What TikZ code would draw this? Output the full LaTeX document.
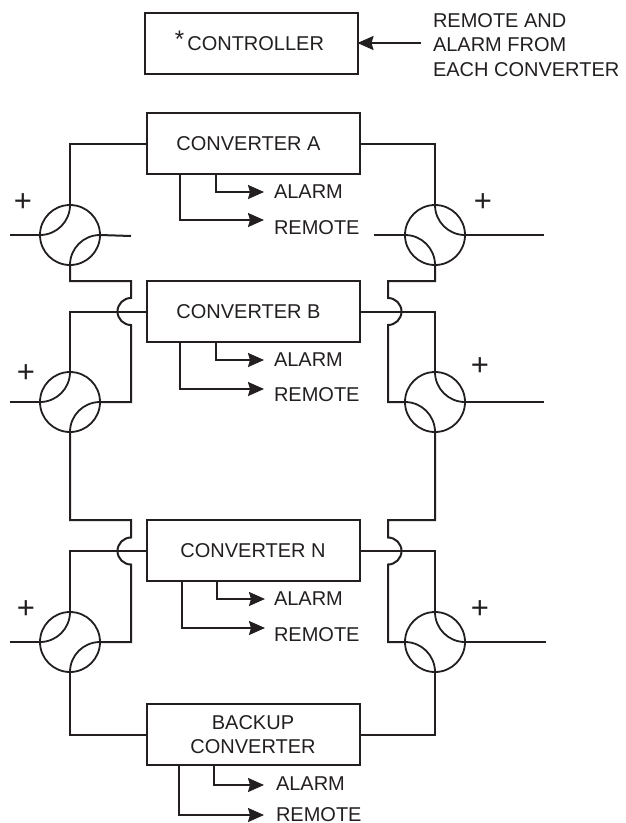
\documentclass[tikz,border=0pt]{standalone}
\usepackage{fontspec}
\setmainfont{Liberation Sans}
\usepackage{xcolor}
\usetikzlibrary{positioning,arrows.meta}

\definecolor{inkblack}{HTML}{231F20}

\begin{document}
\begin{tikzpicture}[
  x=1pt,y=-1pt,
  every node/.style={text=inkblack},
  font=\fontsize{20}{24.5}\selectfont,
  wire/.style={draw=inkblack,line width=2pt},
  conv/.style={draw=inkblack,line width=2pt,align=center,minimum width=213pt,minimum height=61pt,inner sep=0pt,outer sep=0pt},
  port/.style={circle,draw=inkblack,line width=1.8pt,minimum size=60pt,inner sep=0pt,outer sep=0pt},
  sig/.style={anchor=west,inner sep=0pt,outer sep=0pt},
  plus/.style={inner sep=0pt,font=\fontsize{31}{31}\selectfont},
  arr/.style={wire,-{Stealth[length=16pt,width=14pt,inset=2pt]}},
  node distance=107pt,
]
\useasboundingbox (0,0) rectangle (625,823);

% converters
\node[conv] (ctrl) at (251,43.5) {\smash{\kern-3pt\raisebox{3pt}{\fontsize{24}{24}\selectfont *}\kern3pt}CONTROLLER};
\node[conv, below=39pt of ctrl, xshift=2pt] (convA) {\mbox{CONVERTER A\kern9pt}};
\node[conv, below=of convA] (convB) {\mbox{CONVERTER B\kern9pt}};
\node[conv, below=178pt of convB] (convN) {CONVERTER N};
\node[conv, below=123pt of convN] (convK) {BACKUP\\CONVERTER};

% ports
\node[port] (lA) at (70,235) {};
\node[port] (rA) at (435,235) {};
\node[port] (lB) at (70,402) {};
\node[port] (rB) at (435,402) {};
\node[port] (lN) at (70,642) {};
\node[port] (rN) at (435,642) {};

\node[plus] (plA) at (23,203) {+};
\node[plus] (prA) at (483,203) {+};
\node[plus] (plB) at (26,374) {+};
\node[plus] (prB) at (480,367) {+};
\node[plus] (plN) at (26,610) {+};
\node[plus] (prN) at (480,610) {+};

% signal labels
\node[sig, align=left] (note) at (433,45) {REMOTE AND\\ALARM FROM\\EACH CONVERTER};
\foreach \n/\ya/\yb/\xo in {A/192/228/0,B/360/395/0,N/599/635/0,K/784/815/2}{
  \node[sig] (alarm\n) at (274+\xo,\ya) {ALARM};
  \node[sig] (remote\n) at (274+\xo,\yb) {REMOTE};
}

% controller input
\draw[arr] ([xshift=-12pt,yshift=2pt]note.west) -- ([yshift=2pt]note.west -| ctrl.east);

% alarm and remote lines
\foreach \n/\xa/\xb/\dy/\dx/\dz in {A/69.5/33.5/8/10/0,B/69.5/33.5/6/10/0,N/70.5/35.5/7/9/0,K/67.5/32.5/0/12/-1}{
  \draw[arr] ([xshift=\xa pt]conv\n.south west) |- ([xshift=-\dx pt,yshift=\dz pt]alarm\n.west);
  \draw[arr] ([xshift=\xb pt]conv\n.south west) |- ([xshift=-\dx pt,yshift=\dy pt]remote\n.west);
}

% inner bends of the ports
\foreach \p in {lA,lB,lN}{
  \draw[wire,line width=1.8pt] (\p.north) arc[start angle=0,end angle=-90,radius=30pt];
  \draw[wire,line width=1.8pt] (\p.south) arc[start angle=180,end angle=90,radius=30pt];
}
\foreach \p in {rA,rB,rN}{
  \draw[wire,line width=1.8pt] (\p.north) arc[start angle=180,end angle=270,radius=30pt];
  \draw[wire,line width=1.8pt] (\p.south) arc[start angle=0,end angle=90,radius=30pt];
}

% stubs
\coordinate (slA) at (10,235);
\coordinate (slB) at (10,402);
\coordinate (slN) at (10,642);
\coordinate (stA) at (131,236);
\coordinate (stR) at (374,235);
\coordinate (srA) at (544,235);
\coordinate (srB) at (544,402);
\coordinate (srN) at (546,642);
\draw[wire] (slA) -- (lA.west);
\draw[wire] (slB) -- (lB.west);
\draw[wire] (slN) -- (lN.west);
\draw[wire] (lA.east) -- (stA);
\draw[wire] (stR) -- (rA.west);
\draw[wire] (rA.east) -- (srA);
\draw[wire] (rB.east) -- (srB);
\draw[wire] (rN.east) -- (srN);

% feeds from the converters
\draw[wire] (convA.west) -| (lA.north);
\draw[wire] (convA.east) -| (rA.north);
\draw[wire] (convB.west) -| (lB.north);
\draw[wire] (convB.east) -| (rB.north);
\draw[wire] (convN.west) -| (lN.north);
\draw[wire] (convN.east) -| (rN.north);
\draw[wire] (convK.west) -| (lN.south);
\draw[wire] (convK.east) -| (rN.south);

% return lines with hops
\draw[wire] (lA.south) |- (131,281) -- (131,298) arc[start angle=90,end angle=270,radius=13.5pt] |- (lB.east);
\draw[wire] (rA.south) |- (388,281) -- (388,298) arc[start angle=90,end angle=-90,radius=13.5pt] |- (rB.west);
\draw[wire] (lB.south) |- (131,520) -- (131,537.5) arc[start angle=90,end angle=270,radius=13.5pt] |- (lN.east);
\draw[wire] (rB.south) |- (388,520) -- (388,537.5) arc[start angle=90,end angle=-90,radius=13.5pt] |- (rN.west);
\end{tikzpicture}
\end{document}
